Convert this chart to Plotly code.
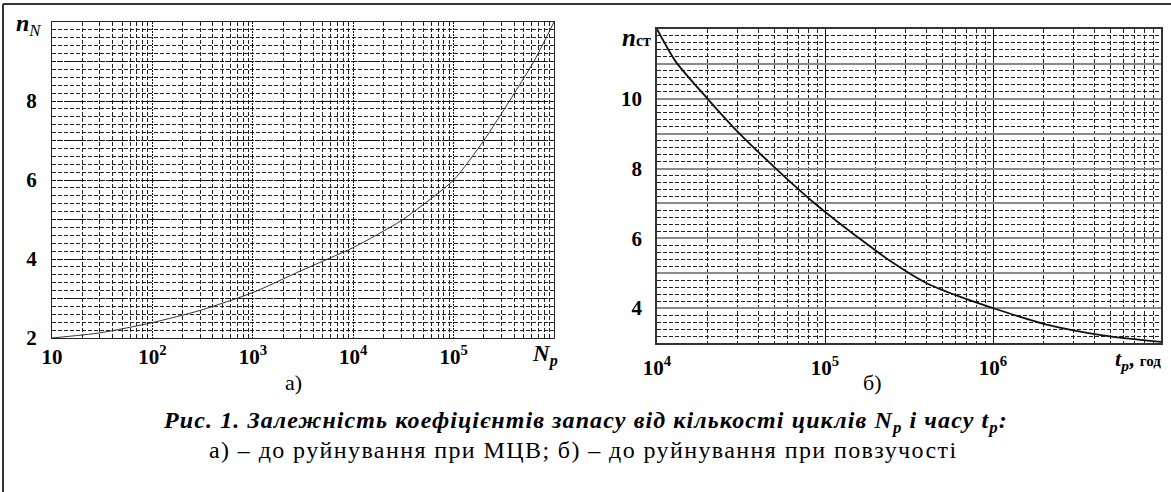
import plotly.graph_objects as go

# ---- data ----
cycles_Np = [10, 30, 100, 300, 1000, 3000, 1e4, 3e4, 1e5, 2e5, 3.6e5, 6.3e5, 1e6]
n_N = [2.0, 2.13, 2.39, 2.7, 3.15, 3.7, 4.29, 4.97, 6.0, 7.0, 8.0, 9.0, 10.0]

time_tp = [1e4, 1.3e4, 2e4, 3.1e4, 5.1e4, 8.7e4, 1.65e5, 2.5e5, 4e5, 6e5, 1e6, 2e6, 4.5e6, 1e7]
n_st = [12.0, 11.05, 10.0, 9.0, 8.0, 7.0, 5.95, 5.32, 4.72, 4.37, 4.0, 3.55, 3.22, 3.03]

x1_ticks = [10, 100, 1000, 1e4, 1e5]
x1_labels = ["<b>10</b>", "<b>10<sup>2</sup></b>", "<b>10<sup>3</sup></b>",
             "<b>10<sup>4</sup></b>", "<b>10<sup>5</sup></b>"]
y1_ticks = [2, 3, 4, 5, 6, 7, 8, 9, 10]
y1_labels = ["2", "", "4", "", "6", "", "8", "", ""]

x2_ticks = [1e4, 1e5, 1e6]
x2_labels = ["<b>10<sup>4</sup></b>", "<b>10<sup>5</sup></b>", "<b>10<sup>6</sup></b>"]
y2_ticks = [3, 4, 5, 6, 7, 8, 9, 10, 11, 12]
y2_labels = ["", "4", "", "6", "", "8", "", "10", "", ""]

caption1 = "<b><i>Рис. 1. Залежність коефіцієнтів запасу від кількості циклів N<sub>p</sub> і часу t<sub>p</sub>:</i></b>"
caption2 = "а) – до руйнування при МЦВ; б) – до руйнування при повзучості"

W, H = 1171, 492
SERIF = "Liberation Serif, Times New Roman, serif"

def minor_log(lo, hi):
    return [m * 10 ** k for k in range(lo, hi) for m in range(2, 10)]

def fy(px):
    return 1 - px / H

def fx(px):
    return px / W

fig = go.Figure()
fig.add_trace(go.Scatter(x=cycles_Np, y=n_N, mode="lines", xaxis="x", yaxis="y",
                         line=dict(color="#333333", width=1, shape="spline", smoothing=0.6),
                         showlegend=False, hoverinfo="skip"))
fig.add_trace(go.Scatter(x=time_tp, y=n_st, mode="lines", xaxis="x2", yaxis="y2",
                         line=dict(color="#111111", width=1.8, shape="spline", smoothing=0.7),
                         showlegend=False, hoverinfo="skip"))

tickfont = dict(family=SERIF, size=21, color="black", weight="bold")

fig.update_layout(
    width=W, height=H,
    margin=dict(l=0, r=0, t=0, b=0, autoexpand=False),
    paper_bgcolor="white", plot_bgcolor="white",
    font=dict(family=SERIF, color="black"),
    xaxis=dict(type="log", range=[1, 6], domain=[fx(52), fx(554)], anchor="y", automargin=False,
               tickmode="array", tickvals=x1_ticks, ticktext=x1_labels, tickfont=tickfont,
               ticks="", ticklabelstandoff=0,
               showgrid=True, gridcolor="#111111", gridwidth=1, griddash="2px,1px",
               minor=dict(tickvals=minor_log(1, 6), showgrid=True, gridcolor="#222222",
                          gridwidth=0.8, griddash="4px,2px", ticks=""),
               showline=True, linecolor="#222222", linewidth=1, mirror=True, zeroline=False),
    yaxis=dict(range=[2, 10], domain=[fy(338), fy(22)], anchor="x", automargin=False,
               tickmode="array", tickvals=y1_ticks, ticktext=y1_labels, tickfont=tickfont,
               ticks="", ticklabelstandoff=10,
               showgrid=True, gridcolor="#111111", gridwidth=1.3, griddash="4px,1px,1px,1px",
               minor=dict(dtick=0.2, showgrid=True, gridcolor="#222222", gridwidth=0.8,
                          griddash="4px,2px", ticks=""),
               showline=True, linecolor="#222222", linewidth=1, mirror=True, zeroline=False),
    xaxis2=dict(type="log", range=[4, 7], domain=[fx(657), fx(1161)], anchor="y2", automargin=False,
                tickmode="array", tickvals=x2_ticks, ticktext=x2_labels, tickfont=tickfont,
                ticks="", ticklabelstandoff=5,
                showgrid=True, gridcolor="#111111", gridwidth=1,
                minor=dict(tickvals=minor_log(4, 7), showgrid=True, gridcolor="#222222",
                           gridwidth=0.8, griddash="4px,2px", ticks=""),
                showline=True, linecolor="#333333", linewidth=1.5, mirror=True, zeroline=False),
    yaxis2=dict(range=[3, 12], domain=[fy(343), fy(29)], anchor="x2", automargin=False,
                tickmode="array", tickvals=y2_ticks, ticktext=y2_labels, tickfont=tickfont,
                ticks="", ticklabelstandoff=9,
                showgrid=True, gridcolor="#8a8a8a", gridwidth=1.6,
                minor=dict(dtick=0.2, showgrid=True, gridcolor="#222222", gridwidth=0.8,
                           griddash="4px,2px", ticks=""),
                showline=True, linecolor="#333333", linewidth=1.5, mirror=True, zeroline=False),
)

ann = [
    dict(x=fx(14), y=fy(25), xanchor="left", yanchor="middle",
         text="<b><i>n</i></b><sub><i>N</i></sub>", font=dict(family=SERIF, size=24)),
    dict(x=fx(560), y=fy(355), xanchor="right", yanchor="middle",
         text="<b><i>N<sub>p</sub></i></b>", font=dict(family=SERIF, size=23)),
    dict(x=fx(653), y=fy(37), xanchor="right", yanchor="middle",
         text="<b><i>n</i></b><b><span style='font-size:16px'>ст</span></b>",
         font=dict(family=SERIF, size=25)),
    dict(x=fx(1163), y=fy(360), xanchor="right", yanchor="middle",
         text="<b><i>t<sub>p</sub></i>,</b> <b><span style='font-size:15px'>год</span></b>",
         font=dict(family=SERIF, size=22)),
    dict(x=fx(293), y=fy(382), xanchor="center", yanchor="middle",
         text="а)", font=dict(family=SERIF, size=22)),
    dict(x=fx(872), y=fy(382), xanchor="center", yanchor="middle",
         text="б)", font=dict(family=SERIF, size=22)),
    dict(x=fx(585), y=fy(422), xanchor="center", yanchor="middle",
         text="<span style='letter-spacing:1.1px'>" + caption1 + "</span>",
         font=dict(family=SERIF, size=24)),
    dict(x=fx(583), y=fy(450), xanchor="center", yanchor="middle",
         text="<span style='letter-spacing:1.4px'>" + caption2 + "</span>",
         font=dict(family=SERIF, size=24)),
]
for a in ann:
    a.update(xref="paper", yref="paper", showarrow=False)
fig.update_layout(annotations=ann)

fig.update_layout(shapes=[
    dict(type="line", xref="paper", yref="paper", x0=fx(3), x1=1, y0=fy(4), y1=fy(4),
         line=dict(color="#333333", width=2)),
    dict(type="line", xref="paper", yref="paper", x0=fx(3), x1=fx(3), y0=fy(4), y1=0,
         line=dict(color="#333333", width=2)),
])

fig.write_html("out.html", config={"displayModeBar": False},
               post_script="document.body.style.margin='0px';")
